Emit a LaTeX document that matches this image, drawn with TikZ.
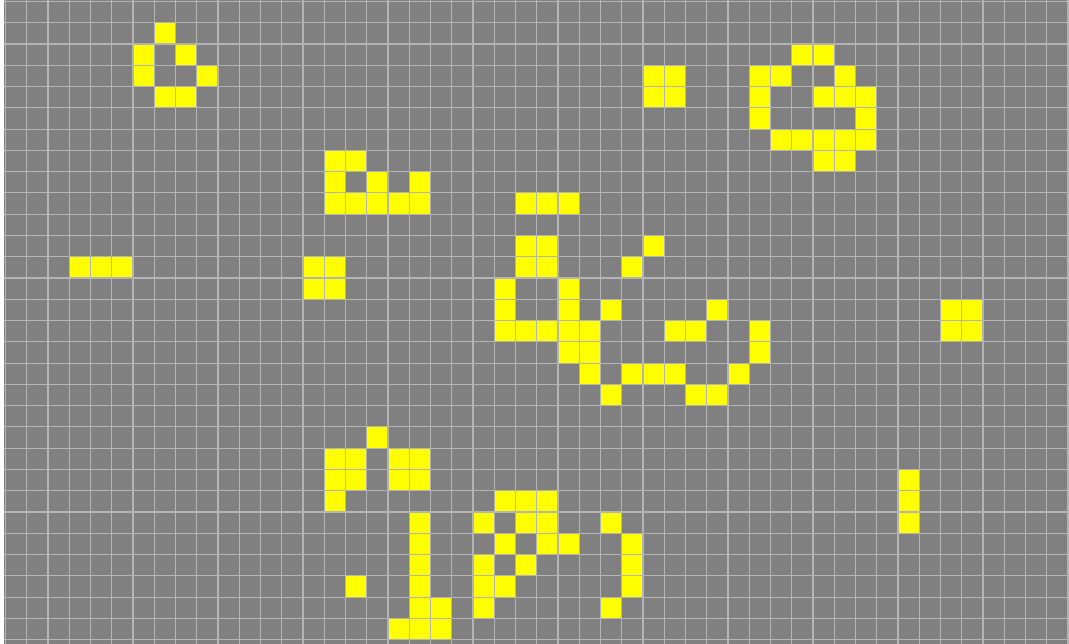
\documentclass[tikz,border=0pt]{standalone}
\definecolor{bggray}{RGB}{128,128,128}
\definecolor{gridline}{RGB}{180,180,180}
\definecolor{cellyellow}{RGB}{255,255,0}
\tikzset{
  livecell/.style={fill=cellyellow},
  gridrule/.style={draw=gridline, line width=1.1pt}
}
\begin{document}
\begin{tikzpicture}[x=1pt,y=-1pt]
\useasboundingbox (0,0) rectangle (1069,644);
\fill[white] (0,0) rectangle (1069,644);
\fill[bggray] (4,0) rectangle (1069,644);
% live cells: row / list of columns
\foreach \r/\cs in {
  1/{7},
  2/{6,8,37,38},
  3/{6,9,30,31,35,36,39},
  4/{7,8,30,31,35,38,39,40},
  5/{35,40},
  6/{36,37,38,39,40},
  7/{15,16,38,39},
  8/{15,17,19},
  9/{15,16,17,18,19,24,25,26},
  11/{24,25,30},
  12/{3,4,5,14,15,24,25,29},
  13/{14,15,23,26},
  14/{23,26,28,33,44,45},
  15/{23,24,25,26,27,31,32,35,44,45},
  16/{26,27,35},
  17/{27,29,30,31,34},
  18/{28,32,33},
  20/{17},
  21/{15,16,18,19},
  22/{15,16,18,19,42},
  23/{15,23,24,25,42},
  24/{19,22,24,25,28,42},
  25/{19,23,25,26,29},
  26/{19,22,24,29},
  27/{16,19,22,23,29},
  28/{19,20,22,28},
  29/{18,19,20}}
{
  \foreach \c in \cs {
    \fill[livecell] ({5.5+21.25*\c},{1.5+21.27*\r}) rectangle +(21.25,21.27);
  }
}
% grid lines
\foreach \k in {0,...,50} {
  \draw[gridrule] ({5.5+21.25*\k},0) -- ({5.5+21.25*\k},644);
}
\foreach \k in {0,...,30} {
  \draw[gridrule] (4,{1.5+21.27*\k}) -- (1069,{1.5+21.27*\k});
}
\end{tikzpicture}
\end{document}
